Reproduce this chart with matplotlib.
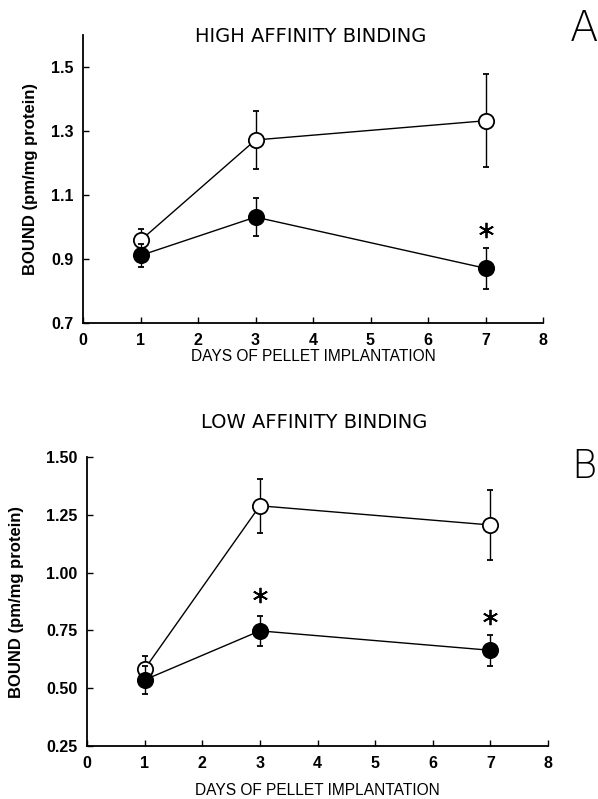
import matplotlib
matplotlib.use('Agg')
import matplotlib.pyplot as plt

# Data
days = [1, 3, 7]

# A: high affinity binding
high_open = [0.958, 1.272, 1.332]
high_open_err = [0.036, 0.090, 0.145]
high_filled = [0.911, 1.031, 0.871]
high_filled_err = [0.037, 0.060, 0.064]
high_star_days = [7]
high_star_y = [0.99]

# B: low affinity binding
low_open = [0.583, 1.289, 1.206]
low_open_err = [0.055, 0.116, 0.150]
low_filled = [0.536, 0.748, 0.664]
low_filled_err = [0.060, 0.065, 0.068]
low_star_days = [3, 7]
low_star_y = [0.905, 0.81]

high_yticks = [0.7, 0.9, 1.1, 1.3, 1.5]
high_yticklabels = ['0.7', '0.9', '1.1', '1.3', '1.5']
low_yticks = [0.25, 0.50, 0.75, 1.00, 1.25, 1.50]
low_yticklabels = ['0.25', '0.50', '0.75', '1.00', '1.25', '1.50']
xticks = list(range(0, 9))

W, H = 598, 799
fig = plt.figure(figsize=(W / 100, H / 100), dpi=100)
plt.rcParams['font.family'] = ['Liberation Sans', 'DejaVu Sans']


def px_axes(left, right, top, bottom):
    return fig.add_axes([left / W, 1 - bottom / H, (right - left) / W, (bottom - top) / H])


def draw_panel(ax, open_y, open_err, filled_y, filled_err, star_x, star_y, ylim, yticks, yticklabels):
    ax.errorbar(days, open_y, yerr=open_err, color='black', lw=1.0, elinewidth=1.0,
                capsize=2, capthick=1.0, marker='o', ms=11, mfc='white', mec='black',
                mew=1.3, zorder=3)
    ax.errorbar(days, filled_y, yerr=filled_err, color='black', lw=1.0, elinewidth=1.0,
                capsize=2, capthick=1.0, marker='o', ms=11, mfc='black', mec='black',
                mew=1.3, zorder=4)
    ax.plot(star_x, star_y, linestyle='none', marker=(6, 2, 0), ms=11, mew=1.3,
            color='black', zorder=5)
    ax.set_xlim(0, 8)
    ax.set_ylim(*ylim)
    ax.set_xticks(xticks)
    ax.set_xticklabels([str(t) for t in xticks])
    ax.set_yticks(yticks)
    ax.set_yticklabels(yticklabels)
    for s in ['top', 'right']:
        ax.spines[s].set_visible(False)
    for s in ['left', 'bottom']:
        ax.spines[s].set_linewidth(1.3)
    ax.tick_params(direction='in', length=4, width=1.0, labelsize=11.5, pad=7)
    for lab in ax.get_xticklabels() + ax.get_yticklabels():
        lab.set_fontweight('bold')
    ax.set_ylabel('BOUND (pm/mg protein)', fontsize=12, fontweight='bold')


# Top panel
ax1 = px_axes(83, 543, 35, 323)
draw_panel(ax1, high_open, high_open_err, high_filled, high_filled_err,
           high_star_days, high_star_y, (0.7, 1.6), high_yticks, high_yticklabels)
ax1.set_xlabel('DAYS OF PELLET IMPLANTATION', fontsize=11.2, labelpad=1)
ax1.yaxis.set_label_coords(-0.098, 0.5)
fig.text(311 / W, 1 - 37 / H, 'HIGH AFFINITY BINDING', ha='center', va='center',
         fontsize=14, family='DejaVu Sans')
fig.text(584 / W, 1 - 41 / H, 'A', ha='center', va='baseline', fontsize=30,
         family='DejaVu Sans', fontweight='light')

# Bottom panel
ax2 = px_axes(87, 548, 457, 746)
draw_panel(ax2, low_open, low_open_err, low_filled, low_filled_err,
           low_star_days, low_star_y, (0.25, 1.5), low_yticks, low_yticklabels)
ax2.set_xlabel('DAYS OF PELLET IMPLANTATION', fontsize=11.2, labelpad=9)
ax2.yaxis.set_label_coords(-0.137, 0.5)
fig.text(314 / W, 1 - 423 / H, 'LOW AFFINITY BINDING', ha='center', va='center',
         fontsize=14, family='DejaVu Sans')
fig.text(571 / W, 1 - 478 / H, 'B', ha='left', va='baseline', fontsize=28,
         family='DejaVu Sans', fontweight='light')

fig.savefig('out.png', dpi=100)
